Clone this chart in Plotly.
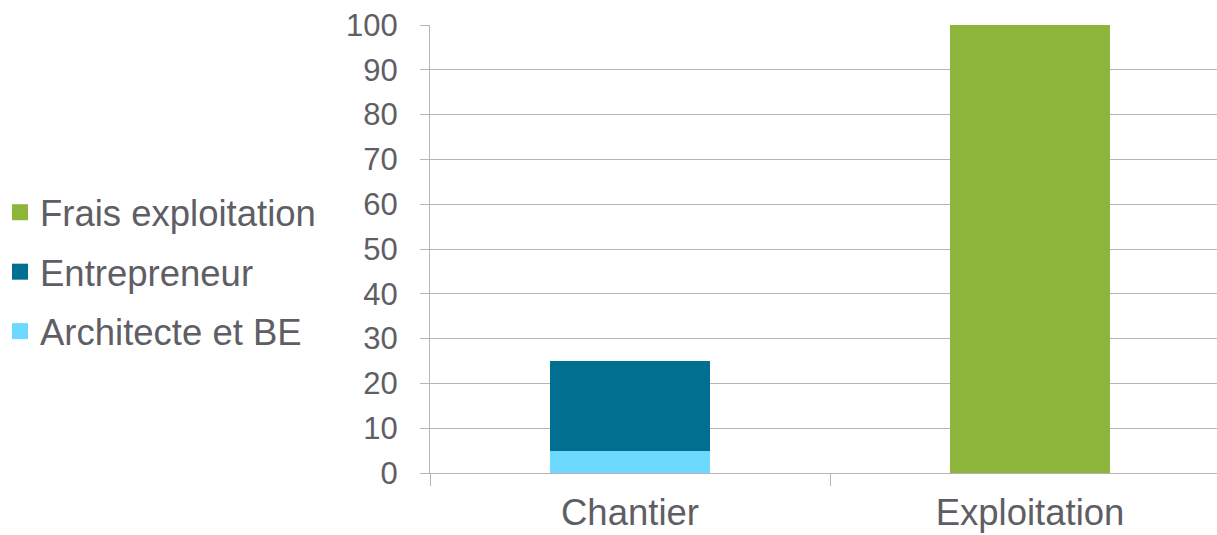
import plotly.graph_objects as go

categories = ["Chantier", "Exploitation"]
architecte = [5, None]
entrepreneur = [20, None]
frais = [None, 100]
y_ticks = [0, 10, 20, 30, 40, 50, 60, 70, 80, 90, 100]

C_ARCH = "#6dd9ff"
C_ENT = "#016f8f"
C_FRAIS = "#8db53c"
TXT = "#5e5e64"
GRID = "#b5b5b5"
FONT = "Liberation Sans, Arial, sans-serif"

fig = go.Figure()
fig.add_trace(go.Bar(x=categories, y=architecte, marker=dict(color=C_ARCH, line=dict(width=0)),
                     width=0.4, showlegend=False, name="Architecte et BE"))
fig.add_trace(go.Bar(x=categories, y=entrepreneur, marker=dict(color=C_ENT, line=dict(width=0)),
                     width=0.4, showlegend=False, name="Entrepreneur"))
fig.add_trace(go.Bar(x=categories, y=frais, marker=dict(color=C_FRAIS, line=dict(width=0)),
                     width=0.4, showlegend=False, name="Frais exploitation"))

# legend entries (square markers)
for i, (nm, col) in enumerate([("Frais exploitation", C_FRAIS), ("Entrepreneur", C_ENT),
                                ("Architecte et BE", C_ARCH)]):
    fig.add_trace(go.Scatter(x=[None], y=[None], mode="markers", name=nm, legendgroup=f"g{i}",
                             marker=dict(symbol="square", size=16, color=col)))

fig.update_layout(
    width=1217, height=535,
    barmode="stack",
    paper_bgcolor="white", plot_bgcolor="white",
    margin=dict(l=430, r=0, t=25, b=62),
    font=dict(family=FONT, color=TXT),
    legend=dict(xref="container", yref="container", x=0.0, y=1 - 272 / 535,
                xanchor="left", yanchor="middle", traceorder="grouped",
                tracegroupgap=9, font=dict(size=36.5, color=TXT, family=FONT),
                itemsizing="trace", bgcolor="rgba(0,0,0,0)"),
    xaxis=dict(range=[-0.5, -0.5 + (1217 - 430) / 400], showgrid=False,
               tickson="boundaries", ticks="outside", ticklen=12, tickcolor=GRID,
               tickwidth=1, showline=True, linecolor=GRID, linewidth=1,
               tickfont=dict(size=36.5, color=TXT), ticklabelstandoff=7),
    yaxis=dict(range=[0, 100], tickvals=y_ticks, showgrid=True, gridcolor=GRID, gridwidth=1,
               ticks="outside", ticklen=9, tickcolor=GRID, showline=True, linecolor=GRID,
               linewidth=1, zeroline=False, tickfont=dict(size=31, color=TXT),
               ticklabelstandoff=16),
    bargap=0.6,
)

fig.write_html("out.html")
